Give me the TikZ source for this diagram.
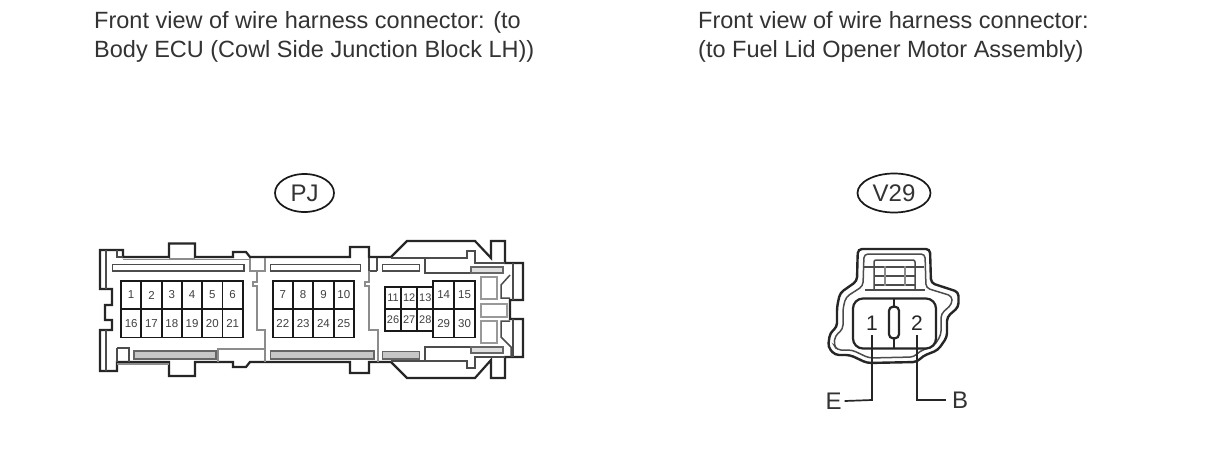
\documentclass[tikz,border=0pt]{standalone}
\usepackage{fontspec}
\setmainfont{Liberation Sans}
\usetikzlibrary{shapes.geometric}
\tikzset{
 blk/.style={draw=black!85,line width=2.2pt,line join=miter},
 thn/.style={draw=black!70,line width=1.5pt},
 gry/.style={draw=black!45,line width=1.7pt},
 slot/.style={draw=black!70,line width=1.5pt,fill=white},
 gslot/.style={draw=black!60,line width=1.4pt,fill=black!22},
 win/.style={draw=black!40,line width=1.8pt,fill=white},
 captxt/.style={font=\fontsize{23.5}{29}\selectfont,text=black!80,align=left,anchor=north west,inner sep=0pt},
 pin/.style={font=\fontsize{11.5}{12}\selectfont,text=black!75,inner sep=0pt,draw=black!90,line width=1.9pt,minimum width=20.3pt,minimum height=28.4pt},
 spin/.style={font=\fontsize{11}{12}\selectfont,text=black!75,inner sep=0pt,draw=black!90,line width=1.9pt,minimum width=16.1pt,minimum height=22.2pt},
 tag/.style={draw=black!90,line width=1.7pt,ellipse,font=\fontsize{24}{25}\selectfont,text=black!80,inner sep=0pt},
 lab/.style={font=\fontsize{24}{25}\selectfont,text=black!80,inner sep=0pt},
 big/.style={font=\fontsize{21}{22}\selectfont,text=black!85,inner sep=0pt},
 lead/.style={draw=black!85,line width=1.7pt},
}
\begin{document}
\begin{tikzpicture}[x=1pt,y=-1pt]
\useasboundingbox (0,0) rectangle (1210,474);
\fill[white] (0,0) rectangle (1210,474);
% captions
\node[captxt] (capL) at (94,11) {Front view of wire harness connector: (to\\Body ECU (Cowl Side Junction Block LH))};
\node[captxt] (capR) at (698,11) {Front view of wire harness connector:\\(to Fuel Lid Opener Motor Assembly)};
% tags
\node[tag,minimum width=59pt,minimum height=38pt] (tagPJ) at (304.5,193) {PJ};
\node[tag,minimum width=73pt,minimum height=39pt] (tagV) at (894,193) {V29};
% PJ outline
\draw[blk] (100,250)--(123,250)--(123,257)--(169,257)--(169,243.5)--(195,243.5)--(195,257)--(233,257)--(233,252)--(246,252)--(250,257)--(350,257)--(350,247)--(369,247)--(369,257)--(391,257)--(407,241)--(475,241)--(491,258)--(491,241)--(505,241)--(505,263)--(523,263)--(523,300)--(510,300)--(510,319)--(523,319)--(523,357)--(505,357)--(505,378)--(491,378)--(491,360)--(475,378)--(407,378)--(391,362)--(369,362)--(369,373)--(350,373)--(350,362)--(250,362)--(246,367)--(233,367)--(233,362)--(195,362)--(195,376)--(169,376)--(169,362)--(117,362)--(117,371)--(100,371)--(100,330)--(112,330)--(112,320)--(105,320)--(105,305)--(112,305)--(112,289)--(100,289)--cycle;
\draw[thn] (106,250)--(106,289) (106,330)--(106,371);
\draw[thn] (117,250)--(117,257)--(123,257);
\draw[gry] (169,259)--(195,259);
\draw[thn] (117,348)--(129,348)--(129,362) (117,348)--(117,362);
\draw[gry] (123,259.5)--(250,259.5) (117,364)--(169,364);
% slots
\draw[slot] (112.7,264.3) rectangle (244,271);
\draw[slot] (270.7,264.3) rectangle (360.7,271);
\draw[slot] (382.7,264.3) rectangle (419.3,271);
\draw[gslot] (134,351) rectangle (216,359);
\draw[gslot] (270.7,351) rectangle (374,359);
\draw[gslot] (382.7,351.7) rectangle (419.3,359);
% dividers
\draw[gry] (250,258)--(250,271)--(265,271)--(265,258);
\draw[gry] (257,271)--(257,282)--(253,282)--(253,286)--(257,286)--(257,330)--(265,330)--(265,362);
\draw[gry] (218,362)--(218,349)--(265,349);
\draw[thn] (369,258)--(369,271)--(377,271) (377,258)--(377,271);
\draw[gry] (369,271)--(369,282)--(365,282)--(365,286)--(369,286)--(369,330)--(378,330)--(378,362);
\draw[thn] (391,258)--(467,258)--(467,251)--(475,251)--(475,263)--(505,263);
\draw[thn] (425,258)--(425,273)--(471,273);
\draw[thn] (391,361)--(467,361)--(467,368)--(475,368)--(475,357)--(505,357);
\draw[thn] (425,361)--(425,347)--(471,347);
\draw[gslot,fill=black!12] (471,267) rectangle (503,273);
\draw[gslot,fill=black!12] (471,347) rectangle (503,353);
% right end
\draw[win] (481,277) rectangle (497,299);
\draw[win] (481,304) rectangle (507,317);
\draw[win] (481,321) rectangle (497,343);
\draw[thn] (513,263)--(513,300) (513,319)--(513,357);
\draw[thn] (510,275)--(501,285)--(501,298)--(510,298);
\draw[thn] (510,321)--(501,321)--(501,337)--(511,347)--(511,357);
% pin grids
\foreach \n [count=\i from 0] in {1,2,3,4,5,6}
  \node[pin] (p\n) at ({131.15+\i*20.3},295) {\n};
\foreach \n [count=\i from 0] in {16,17,18,19,20,21}
  \node[pin] (p\n) at ({131.15+\i*20.3},323.3) {\n};
\foreach \n [count=\i from 0] in {7,8,9,10}
  \node[pin] (p\n) at ({282.85+\i*20.3},295) {\n};
\foreach \n [count=\i from 0] in {22,23,24,25}
  \node[pin] (p\n) at ({282.85+\i*20.3},323.3) {\n};
\foreach \n [count=\i from 0] in {11,12,13}
  \node[spin] (p\n) at ({393.05+\i*16.1},297.8) {\n};
\foreach \n [count=\i from 0] in {26,27,28}
  \node[spin] (p\n) at ({393.05+\i*16.1},320) {\n};
\foreach \n [count=\i from 0] in {14,15}
  \node[pin,minimum width=20.8pt] (p\n) at ({443.7+\i*20.8},295) {\n};
\foreach \n [count=\i from 0] in {29,30}
  \node[pin,minimum width=20.8pt] (p\n) at ({443.7+\i*20.8},323.3) {\n};
% V29 body
\draw[blk,line width=2.4pt,rounded corners=4pt] (857.5,259)--(858,249)--(930,249)--(931,283)--(958.5,292)--(958.5,307)--(947,317)--(947,337)--(938,350)--(923,356)--(917,362)--(867,363)--(850,355)--(835,355)--(828,347)--(830,333)--(837,327)--(837,307)--(840,293)--(857,281)--cycle;
\draw[thn,rounded corners=4pt] (864,254)--(925,254)--(926,288)--(952,296)--(952,304)--(941,314)--(941,335)--(934,346)--(920,351)--(914,357)--(869,358)--(852,350)--(837,350)--(834,345)--(835,336)--(843,329)--(843,308)--(846,297)--(863,286)--cycle;
\draw[thn] (865,290)--(925,290);
\draw[thn,rounded corners=2pt] (874,290)--(874,260)--(915,260)--(915,290);
\draw[thn] (864,267)--(924,267) (874,276)--(915,276) (874,285)--(915,285);
\draw[gry] (885,266)--(885,286) (905,266)--(905,286);
\draw[blk,rounded corners=10pt] (853,298.5) rectangle (936,348.5);
\draw[blk,rounded corners=4pt] (889,306.7) rectangle (899,338.3);
\draw[blk] (894,298.5)--(894,306.7) (894,338.3)--(894,348.5);
\node[big] (n1) at (872,323) {1};
\node[big] (n2) at (917,323) {2};
\node[lab] (lE) at (833.5,401) {E};
\node[lab] (lB) at (960,400) {B};
\coordinate (t1) at (872,335);
\coordinate (t2) at (917,335);
\draw[lead] (t1)--(872,400)--([xshift=3pt]lE.east);
\draw[lead] (t2)--(917,400)--([xshift=-6pt]lB.west);
\end{tikzpicture}
\end{document}
